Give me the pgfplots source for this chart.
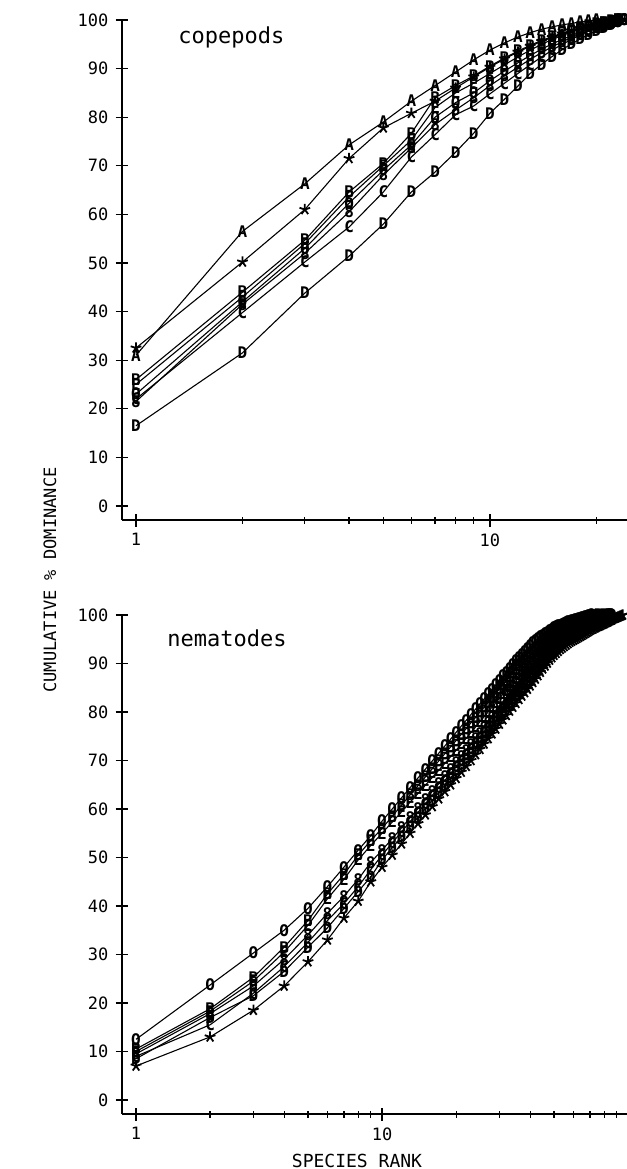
\documentclass[border=0pt]{standalone}
\usepackage{fontspec}
\setmainfont{DejaVu Sans Mono}
\usepackage{pgfplots}
\pgfplotsset{compat=1.18}

% letter-shaped plot marks, like the plotter symbols
\newcommand\lettermark[3]{\pgfdeclareplotmark{#1}{\pgftext{\fontsize{#3}{#3}\selectfont\bfseries #2}}}
\lettermark{cA}{A}{8}
\lettermark{cB}{B}{8}
\lettermark{cE}{E}{8}
\lettermark{cO}{O}{8}
\lettermark{c8}{8}{8}
\lettermark{cC}{C}{8}
\lettermark{cD}{D}{8}
\lettermark{nO}{O}{8}
\lettermark{nB}{B}{8}
\lettermark{nE}{E}{8}
\lettermark{n8}{8}{8}
\lettermark{nC}{C}{8}
\lettermark{nD}{D}{8}

\pgfplotsset{
  ser/.style={black, line width=0.55pt, mark=#1, mark options={line width=0.9pt}},
}

\begin{document}
\begin{tikzpicture}
% copepods
\begin{axis}[at={(61pt,-260pt)}, anchor=south west,
  scale only axis, width=252.5pt, height=250pt,
  xmode=log, xmin=0.913, xmax=24.4,
  ymin=-2.9, ymax=100,
  axis x line*=bottom, axis y line*=left,
  axis line style={-, line width=0.6pt},
  ytick={0,10,20,30,40,50,60,70,80,90,100},
  xtick={1,10}, xticklabels={1,10},
  minor xtick={2,3,4,5,6,7,8,9,20},
  tick align=center,
  major tick length=6.5pt, minor tick length=3.5pt,
  tick style={black, line width=0.6pt},
  ticklabel style={font=\fontsize{8.5}{8.5}\selectfont},
  clip=false,
  /pgf/number format/assume math mode=true]
\addplot[ser=cA] coordinates {(1,31)(2,56.5)(3,66.3)(4,74.3)(5,79)(6,83.3)(7,86.5)(8,89.3)(9,91.8)(10,93.8)(11,95.3)(12,96.5)(13,97.4)(14,98.1)(15,98.6)(16,99.0)(17,99.3)(18,99.6)(19,99.8)(20,100)};
\addplot[ser=star, mark size=2.8pt] coordinates {(1,32.5)(2,50.2)(3,61)(4,71.5)(5,77.8)(6,80.8)(7,83.3)(8,86)(9,88.3)(10,90.3)(11,92)(12,93.4)(13,94.6)(14,95.6)(15,96.4)(16,97.1)(17,97.7)(18,98.2)(19,98.6)(20,99)(21,99.3)(22,99.6)(23,99.8)(24,100)};
\addplot[ser=cB] coordinates {(1,26)(2,44)(3,54.7)(4,64.6)(5,70.5)(6,76.7)(7,84)(8,86.5)(9,88.5)(10,90.5)(11,92.2)(12,93.6)(13,94.8)(14,95.8)(15,96.6)(16,97.3)(17,97.9)(18,98.4)(19,98.8)(20,99.2)(21,99.5)(22,99.8)(23,100)};
\addplot[ser=cE] coordinates {(1,25)(2,43)(3,54)(4,63.6)(5,70)(6,75.3)(7,82)(8,85)(9,87)(10,89)(11,90.8)(12,92.4)(13,93.8)(14,95)(15,96)(16,96.8)(17,97.5)(18,98.1)(19,98.6)(20,99)(21,99.4)(22,99.7)(23,100)};
\addplot[ser=cO] coordinates {(1,23)(2,42)(3,53)(4,62.3)(5,69.1)(6,74.3)(7,80)(8,83)(9,85)(10,87.5)(11,89.5)(12,91.2)(13,92.7)(14,94)(15,95.1)(16,96)(17,96.8)(18,97.5)(19,98.1)(20,98.6)(21,99)(22,99.4)(23,99.7)(24,100)};
\addplot[ser=c8] coordinates {(1,21.5)(2,41.5)(3,52)(4,60.5)(5,68.1)(6,73.7)(7,78.5)(8,81.5)(9,84)(10,86.5)(11,88.5)(12,90.3)(13,91.9)(14,93.3)(15,94.5)(16,95.5)(17,96.4)(18,97.1)(19,97.8)(20,98.4)(21,98.9)(22,99.3)(23,99.7)(24,100)};
\addplot[ser=cC] coordinates {(1,22)(2,39.8)(3,50.2)(4,57.4)(5,64.6)(6,71.8)(7,76.4)(8,80.5)(9,82.3)(10,84.8)(11,87)(12,89)(13,90.8)(14,92.4)(15,93.8)(16,95)(17,96)(18,96.9)(19,97.7)(20,98.4)(21,99)(22,99.5)(23,100)};
\addplot[ser=cD] coordinates {(1,16.5)(2,31.5)(3,43.8)(4,51.4)(5,58)(6,64.6)(7,68.7)(8,72.8)(9,76.7)(10,80.8)(11,83.7)(12,86.4)(13,89)(14,90.9)(15,92.5)(16,93.9)(17,95.1)(18,96.1)(19,97)(20,97.8)(21,98.5)(22,99.1)(23,99.6)(24,100)};
\end{axis}

% nematodes
\begin{axis}[at={(61pt,-557pt)}, anchor=south west,
  scale only axis, width=252.5pt, height=249.5pt,
  xmode=log, xmin=0.877, xmax=99,
  ymin=-2.9, ymax=100,
  axis x line*=bottom, axis y line*=left,
  axis line style={-, line width=0.6pt},
  ytick={0,10,20,30,40,50,60,70,80,90,100},
  xtick={1,10}, xticklabels={1,10},
  minor xtick={2,3,4,5,6,7,8,9,20,30,40,50,60,70,80,90},
  tick align=center,
  major tick length=6.5pt, minor tick length=3.5pt,
  tick style={black, line width=0.6pt},
  ticklabel style={font=\fontsize{8.5}{8.5}\selectfont},
  clip=false,
  /pgf/number format/assume math mode=true]
\addplot[ser=nO] coordinates {(1,12.5)(2,23.7)(3,30.3)(4,35.0)(5,39.5)(6,44.0)(7,48.0)(8,51.5)(9,54.5)(10,57.5)(11,60.0)(12,62.3)(13,64.4)(14,66.4)(15,68.2)(16,69.9)(17,71.5)(18,73.0)(19,74.4)(20,75.8)(21,77.1)(22,78.3)(23,79.5)(24,80.6)(25,81.7)(26,82.7)(27,83.7)(28,84.7)(29,85.6)(30,86.5)(31,87.4)(32,88.2)(33,89.0)(34,89.8)(35,90.5)(36,91.2)(37,91.9)(38,92.5)(39,93.1)(40,93.7)(41,94.2)(42,94.7)(43,95.1)(44,95.5)(45,95.8)(46,96.1)(47,96.4)(48,96.7)(49,97.0)(50,97.3)(51,97.5)(52,97.7)(53,97.9)(54,98.1)(55,98.3)(56,98.5)(57,98.6)(58,98.7)(59,98.8)(60,98.9)(61,99.0)(62,99.1)(63,99.2)(64,99.3)(65,99.4)(66,99.5)(67,99.6)(68,99.7)(69,99.8)(70,99.9)(71,100)};
\addplot[ser=nB] coordinates {(1,10.5)(2,18.8)(3,25.3)(4,31.5)(5,37)(6,42.5)(7,46.5)(8,50.5)(9,53.5)(10,56)(11,58.5)(12,60.8)(13,62.9)(14,64.8)(15,66.6)(16,68.3)(17,69.9)(18,71.4)(19,72.8)(20,74.1)(21,75.4)(22,76.6)(23,77.8)(24,78.9)(25,80.0)(26,81.0)(27,82.0)(28,83.0)(29,83.9)(30,84.8)(31,85.7)(32,86.5)(33,87.3)(34,88.1)(35,88.8)(36,89.5)(37,90.2)(38,90.8)(39,91.4)(40,92.0)(41,92.5)(42,93.0)(43,93.5)(44,94.0)(45,94.4)(46,94.8)(47,95.2)(48,95.6)(49,95.9)(50,96.2)(51,96.5)(52,96.8)(53,97.0)(54,97.2)(55,97.4)(56,97.6)(57,97.8)(58,98.0)(59,98.2)(60,98.4)(61,98.5)(62,98.6)(63,98.7)(64,98.8)(65,98.9)(66,99.0)(67,99.1)(68,99.2)(69,99.3)(70,99.4)(71,99.5)(72,99.6)(73,99.7)(74,99.8)(75,99.9)(76,100)};
\addplot[ser=nE] coordinates {(1,10)(2,18.3)(3,24.5)(4,30.5)(5,36)(6,41.5)(7,45.5)(8,49.5)(9,52.5)(10,55)(11,57.3)(12,59.4)(13,61.4)(14,63.2)(15,64.9)(16,66.5)(17,68.0)(18,69.4)(19,70.8)(20,72.1)(21,73.4)(22,74.6)(23,75.8)(24,76.9)(25,78.0)(26,79.0)(27,80.0)(28,81.0)(29,81.9)(30,82.8)(31,83.7)(32,84.5)(33,85.3)(34,86.1)(35,86.9)(36,87.6)(37,88.3)(38,89.0)(39,89.6)(40,90.2)(41,90.8)(42,91.4)(43,91.9)(44,92.4)(45,92.9)(46,93.4)(47,93.8)(48,94.2)(49,94.6)(50,95.0)(51,95.3)(52,95.6)(53,95.9)(54,96.2)(55,96.5)(56,96.7)(57,96.9)(58,97.1)(59,97.3)(60,97.5)(61,97.7)(62,97.9)(63,98.0)(64,98.2)(65,98.3)(66,98.5)(67,98.6)(68,98.8)(69,98.9)(70,99.0)(71,99.1)(72,99.2)(73,99.3)(74,99.4)(75,99.5)(76,99.6)(77,99.7)(78,99.8)(79,99.9)(80,100)};
\addplot[ser=n8] coordinates {(1,9.5)(2,17.8)(3,23.5)(4,29)(5,34)(6,38.5)(7,42)(8,45.5)(9,49)(10,51.5)(11,53.9)(12,56.1)(13,58.2)(14,60.1)(15,61.9)(16,63.6)(17,65.2)(18,66.7)(19,68.1)(20,69.5)(21,70.8)(22,72.1)(23,73.3)(24,74.5)(25,75.6)(26,76.7)(27,77.8)(28,78.8)(29,79.8)(30,80.8)(31,81.7)(32,82.6)(33,83.5)(34,84.3)(35,85.1)(36,85.9)(37,86.6)(38,87.3)(39,88.0)(40,88.7)(41,89.3)(42,89.9)(43,90.5)(44,91.1)(45,91.6)(46,92.1)(47,92.6)(48,93.1)(49,93.5)(50,93.9)(51,94.3)(52,94.7)(53,95.0)(54,95.3)(55,95.6)(56,95.9)(57,96.2)(58,96.5)(59,96.7)(60,96.9)(61,97.1)(62,97.3)(63,97.5)(64,97.7)(65,97.9)(66,98.1)(67,98.2)(68,98.4)(69,98.5)(70,98.7)(71,98.8)(72,98.9)(73,99.0)(74,99.1)(75,99.2)(76,99.3)(77,99.4)(78,99.5)(79,99.6)(80,99.7)(81,99.8)(82,99.9)(83,100)};
\addplot[ser=nC] coordinates {(1,9)(2,15.5)(3,22)(4,27.5)(5,32.5)(6,37)(7,40.5)(8,44)(9,47.5)(10,50.5)(11,53.0)(12,55.3)(13,57.4)(14,59.3)(15,61.1)(16,62.8)(17,64.4)(18,65.9)(19,67.3)(20,68.7)(21,70.0)(22,71.3)(23,72.5)(24,73.7)(25,74.8)(26,75.9)(27,77.0)(28,78.0)(29,79.0)(30,80.0)(31,80.9)(32,81.8)(33,82.7)(34,83.5)(35,84.3)(36,85.1)(37,85.9)(38,86.6)(39,87.3)(40,88.0)(41,88.7)(42,89.3)(43,89.9)(44,90.5)(45,91.1)(46,91.6)(47,92.1)(48,92.6)(49,93.1)(50,93.5)(51,93.9)(52,94.3)(53,94.7)(54,95.0)(55,95.3)(56,95.6)(57,95.9)(58,96.2)(59,96.5)(60,96.7)(61,96.9)(62,97.1)(63,97.3)(64,97.5)(65,97.7)(66,97.9)(67,98.1)(68,98.2)(69,98.4)(70,98.5)(71,98.7)(72,98.8)(73,98.9)(74,99.0)(75,99.1)(76,99.2)(77,99.3)(78,99.4)(79,99.5)(80,99.6)(81,99.7)(82,99.8)(83,99.9)(84,100)};
\addplot[ser=nD] coordinates {(1,8.5)(2,17)(3,21.5)(4,26.5)(5,31.5)(6,35.5)(7,39.5)(8,43)(9,46)(10,49.5)(11,52.0)(12,54.3)(13,56.4)(14,58.3)(15,60.1)(16,61.8)(17,63.4)(18,64.9)(19,66.4)(20,67.8)(21,69.1)(22,70.4)(23,71.6)(24,72.8)(25,73.9)(26,75.0)(27,76.0)(28,77.0)(29,78.0)(30,79.0)(31,79.9)(32,80.8)(33,81.7)(34,82.5)(35,83.3)(36,84.1)(37,84.9)(38,85.6)(39,86.3)(40,87.0)(41,87.7)(42,88.4)(43,89.0)(44,89.6)(45,90.2)(46,90.8)(47,91.3)(48,91.8)(49,92.3)(50,92.8)(51,93.2)(52,93.6)(53,94.0)(54,94.4)(55,94.7)(56,95.0)(57,95.3)(58,95.6)(59,95.9)(60,96.2)(61,96.4)(62,96.6)(63,96.8)(64,97.0)(65,97.2)(66,97.4)(67,97.6)(68,97.8)(69,98.0)(70,98.1)(71,98.3)(72,98.4)(73,98.6)(74,98.7)(75,98.8)(76,99.0)(77,99.1)(78,99.2)(79,99.3)(80,99.4)(81,99.5)(82,99.6)(83,99.7)(84,99.8)(85,99.9)(86,100)};
\addplot[ser=star, mark size=2.8pt] coordinates {(1,7)(2,13)(3,18.5)(4,23.5)(5,28.5)(6,33)(7,37.5)(8,41)(9,45)(10,48)(11,50.5)(12,52.8)(13,55)(14,57)(15,58.8)(16,60.5)(17,62.1)(18,63.6)(19,65.0)(20,66.3)(21,67.6)(22,68.8)(23,70.0)(24,71.2)(25,72.3)(26,73.4)(27,74.5)(28,75.5)(29,76.5)(30,77.5)(31,78.4)(32,79.3)(33,80.2)(34,81.0)(35,81.8)(36,82.6)(37,83.3)(38,84.0)(39,84.7)(40,85.4)(41,86.1)(42,86.8)(43,87.5)(44,88.2)(45,88.9)(46,89.5)(47,90.1)(48,90.7)(49,91.2)(50,91.7)(51,92.1)(52,92.5)(53,92.9)(54,93.2)(55,93.5)(56,93.8)(57,94.1)(58,94.4)(59,94.6)(60,94.8)(61,95.0)(62,95.2)(63,95.4)(64,95.6)(65,95.8)(66,96.0)(67,96.2)(68,96.4)(69,96.6)(70,96.8)(71,97.0)(72,97.1)(73,97.3)(74,97.4)(75,97.6)(76,97.7)(77,97.8)(78,98.0)(79,98.1)(80,98.2)(81,98.4)(82,98.5)(83,98.6)(84,98.8)(85,98.9)(86,99.0)(87,99.2)(88,99.3)(89,99.4)(90,99.5)(91,99.6)(92,99.7)(93,99.8)(94,99.9)(95,100)};
\end{axis}

\node[anchor=west, inner sep=0pt, font=\fontsize{11}{11}\selectfont] at (89pt,-18.5pt) {copepods};
\node[anchor=west, inner sep=0pt, font=\fontsize{11}{11}\selectfont] at (83.5pt,-319pt) {nematodes};
\node[rotate=90, font=\fontsize{8.5}{8.5}\selectfont] at (25pt,-290pt) {CUMULATIVE \% DOMINANCE};
\node[anchor=base, inner sep=0pt, font=\fontsize{9}{9}\selectfont] at (178.5pt,-583.5pt) {SPECIES RANK};

\pgfresetboundingbox
\path[use as bounding box] (0pt,0pt) rectangle (313.5pt,-584.5pt);
\end{tikzpicture}
\end{document}
